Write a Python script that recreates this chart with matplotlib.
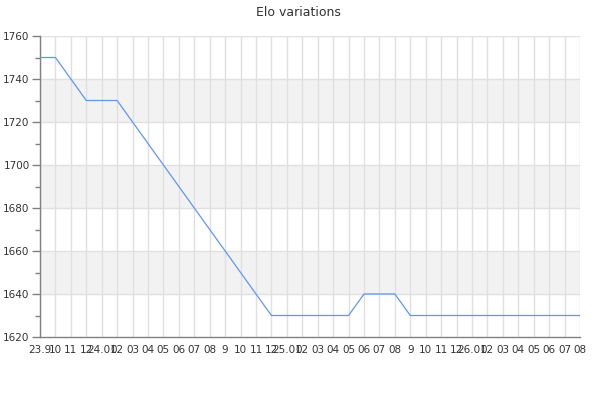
import numpy as np
import matplotlib.pyplot as plt

# monthly labels, Sep 2023 .. Aug 2026
months = ['23.9', '10', '11', '12',
          '24.01', '02', '03', '04', '05', '06', '07', '08', '9', '10', '11', '12',
          '25.01', '02', '03', '04', '05', '06', '07', '08', '9', '10', '11', '12',
          '26.01', '02', '03', '04', '05', '06', '07', '08']
elo = [1750, 1750, 1740, 1730, 1730, 1730, 1720, 1710, 1700, 1690,
       1680, 1670, 1660, 1650, 1640, 1630, 1630, 1630, 1630, 1630,
       1630, 1640, 1640, 1640, 1630, 1630, 1630, 1630, 1630, 1630,
       1630, 1630, 1630, 1630, 1630, 1630]
y_ticks = [1620, 1640, 1660, 1680, 1700, 1720, 1740, 1760]

fig = plt.figure(figsize=(6, 4), dpi=100)
ax = fig.add_axes([40/600, 1-337/400, 540/600, 301/400])

x = np.arange(len(months))

# alternate shaded bands
for i in range(len(y_ticks)-1):
    if i % 2 == 1:
        ax.axhspan(y_ticks[i], y_ticks[i+1], color='#f2f2f2', lw=0, zorder=0)

for xi in x:
    ax.axvline(xi, color='#e0e0e0', lw=1, zorder=1)
for yv in y_ticks[1:]:
    ax.axhline(yv, color='#e0e0e0', lw=1, zorder=1)

ax.plot(x, elo, color='#6495ed', lw=0.9, zorder=3)

ax.set_xlim(0, len(months)-1)
ax.set_ylim(y_ticks[0], y_ticks[-1])
ax.set_xticks(x)
ax.set_xticklabels(months)
ax.set_yticks(y_ticks)
ax.set_yticks(np.arange(1630, 1760, 20), minor=True)

ax.tick_params(axis='x', length=0, pad=6, labelsize=7.5, colors='#333333')
ax.tick_params(axis='y', which='major', length=6, width=1, pad=1.5,
               labelsize=7.5, colors='#808080', labelcolor='#333333')
ax.tick_params(axis='y', which='minor', length=3.5, width=1, colors='#808080')

for s in ['top', 'right']:
    ax.spines[s].set_visible(False)
for s in ['left', 'bottom']:
    ax.spines[s].set_color('#808080')
    ax.spines[s].set_linewidth(1)

fig.text(298/600, 1-12/400, 'Elo variations', ha='center', va='center',
         fontsize=9, color='#333333')

fig.savefig('out.png', dpi=100)
